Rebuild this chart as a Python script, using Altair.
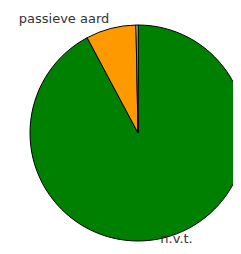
import altair as alt
import pandas as pd

categories = ["n.v.t.", "passieve aard", "actieve aard"]
values = [92.2, 7.5, 0.3]
colors = ["#008000", "#ff9900", "#ffffff"]
order = [0, 1, 2]

df = pd.DataFrame({"categorie": categories, "waarde": values, "volgorde": order})

cx, cy, R = 130, 125, 108
total = sum(values)

pie = alt.Chart(df).mark_arc(radius=R, stroke="#000000", strokeWidth=1).encode(
    theta=alt.Theta("waarde:Q", stack=True),
    order=alt.Order("volgorde:Q"),
    x=alt.value(cx),
    y=alt.value(cy),
    color=alt.Color("categorie:N", scale=alt.Scale(domain=categories, range=colors), legend=None),
)

txt_kw = dict(font="DejaVu Sans", fontSize=13, color="#333333", baseline="alphabetic", align="center")

labels_base = alt.Chart(df).transform_window(
    cum="sum(waarde)", sort=[alt.SortField("volgorde")], frame=[None, 0]
).transform_calculate(mid="datum.cum - datum.waarde / 2")

theta_mid = alt.Theta("mid:Q", scale=alt.Scale(domain=[0, total], range=[0, 6.283185307179586]))

lab1 = labels_base.transform_filter(alt.datum.categorie == "passieve aard").mark_text(
    radius=113.6, dx=-45.4, **txt_kw
).encode(theta=theta_mid, x=alt.value(cx), y=alt.value(cy), text="categorie:N")

lab2 = labels_base.transform_filter(alt.datum.categorie == "n.v.t.").mark_text(
    radius=113.9, dx=10.9, **txt_kw
).encode(theta=theta_mid, x=alt.value(cx), y=alt.value(cy), text="categorie:N")

chart = alt.layer(pie, lab1, lab2).properties(
    width=225, height=238, autosize=alt.AutoSizeParams(type="none"), padding=0
).configure_view(stroke=None)

chart.save("out.html", embed_options={"renderer": "svg", "actions": False})
